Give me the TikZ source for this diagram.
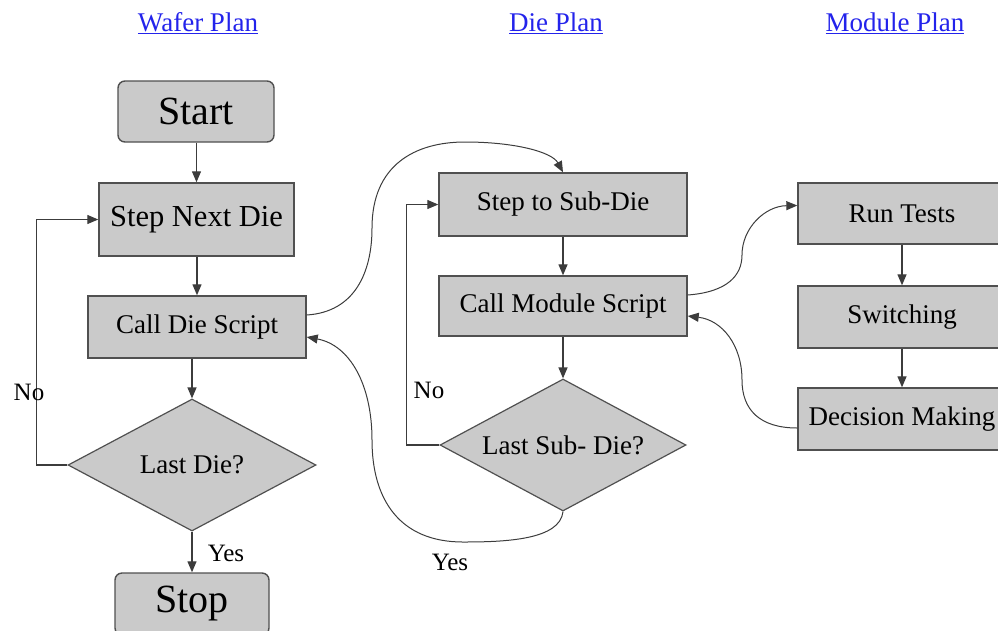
\documentclass[tikz,border=0pt]{standalone}
\usepackage{fontspec}
\setmainfont{Liberation Serif}
\usetikzlibrary{shapes.geometric,arrows.meta}
\definecolor{boxfill}{RGB}{202,202,202}
\definecolor{boxline}{RGB}{80,80,80}
\definecolor{linkblue}{RGB}{35,35,235}
\definecolor{wire}{RGB}{60,60,60}
\begin{document}
\begin{tikzpicture}[x=1pt,y=-1pt,
  boxtxt/.style={font=\fontsize{27}{32}\selectfont},
  bigtxt/.style={font=\fontsize{40}{46}\selectfont},
  procbox/.style={draw=boxline,fill=boxfill,line width=1.4pt,rectangle,inner sep=0pt,boxtxt},
  termbox/.style={procbox,rounded corners=7pt,bigtxt},
  decbox/.style={draw=boxline,fill=boxfill,line width=1.2pt,diamond,inner sep=0pt,boxtxt},
  title/.style={text=linkblue,font=\fontsize{27}{32}\selectfont,inner sep=0pt},
  lbl/.style={inner sep=0pt,font=\fontsize{25}{30}\selectfont},
  flow/.style={draw=wire,line width=1.3pt,-{Triangle[length=11pt,width=9pt]}},
  link/.style={draw=wire,line width=1pt,-{Triangle[length=11pt,width=9pt]}}]
\useasboundingbox (0,0) rectangle (998,630);

% titles
\node[title] (t1) at (198,23) {\underline{Wafer Plan}};
\node[title] (t2) at (556,23) {\underline{Die Plan}};
\node[title] (t3) at (895,23) {\underline{Module Plan}};

% wafer plan
\node[termbox,minimum width=156pt,minimum height=61pt] (start) at (196,111.5) {Start};
\node[procbox,minimum width=195pt,minimum height=73pt,font=\fontsize{30.5}{36}\selectfont] (snd) at (196.5,219.5) {Step Next Die};
\node[procbox,minimum width=218pt,minimum height=62pt] (cds) at (197,327) {Call Die Script};
\node[decbox,minimum width=248pt,minimum height=132pt,aspect=1.88] (ld) at (192,465) {Last Die?};
\node[termbox,minimum width=154pt,minimum height=62pt] (stop) at (192,604) {Stop};

\draw[flow] (start.south -| snd.north) -- (snd.north);
\draw[flow] (snd.south -| cds.north) -- (cds.north);
\draw[flow] (ld.north |- cds.south) -- (ld.north);
\draw[flow] (ld.south) -- (stop.north);
\draw[flow] (ld.west) -- ++(-31,0) |- (snd.west);
\node[lbl] (no1) at (29,392) {No};
\node[lbl] (yes1) at (226,553) {Yes};

% die plan
\node[procbox,minimum width=248pt,minimum height=63pt] (ssd) at (563,204.5) {Step to Sub-Die};
\node[procbox,minimum width=248pt,minimum height=60pt] (cms) at (563,306) {Call Module Script};
\node[decbox,minimum width=246pt,minimum height=132pt,aspect=1.86] (lsd) at (563,445) {Last Sub- Die?};

\draw[flow] (ssd.south) -- (cms.north);
\draw[flow] (cms.south) -- (lsd.north);
\draw[flow] (lsd.west) -- ++(-33,0) |- (ssd.west);
\node[lbl] (no2) at (429,390) {No};
\node[lbl] (yes2) at (450,562) {Yes};

% module plan
\node[procbox,minimum width=208pt,minimum height=61pt] (rt) at (902,213.5) {Run Tests};
\node[procbox,minimum width=208pt,minimum height=62pt] (sw) at (902,317) {Switching};
\node[procbox,minimum width=208pt,minimum height=62pt] (dm) at (902,419) {Decision Making};

\draw[flow] (rt.south) -- (sw.north);
\draw[flow] (sw.south) -- (dm.north);

% curved links
\coordinate (c1s) at ([yshift=12pt]cds.east);
\draw[link] (c1s) .. controls (355,312) and (372,272) .. (372,228)
  .. controls (372,165) and (415,142) .. (465,142)
  .. controls (515,142) and (552,152) .. (ssd.north);

\coordinate (c2e) at ([yshift=-10pt]cds.east);
\draw[link] (lsd.south) .. controls (560,540) and (505,542) .. (463,542)
  .. controls (400,542) and (372,500) .. (372,440)
  .. controls (372,385) and (350,345) .. (c2e);

\coordinate (c3s) at ([yshift=11pt]cms.east);
\coordinate (c3e) at ([yshift=8pt]rt.west);
\draw[link] (c3s) .. controls (728,292) and (742,275) .. (742,255)
  .. controls (742,228) and (765,206) .. (c3e);

\coordinate (c4s) at ([yshift=-9pt]dm.west);
\coordinate (c4e) at ([yshift=-10pt]cms.east);
\draw[link] (c4s) .. controls (760,428) and (742,410) .. (742,380)
  .. controls (742,345) and (722,320) .. (c4e);
\end{tikzpicture}
\end{document}
